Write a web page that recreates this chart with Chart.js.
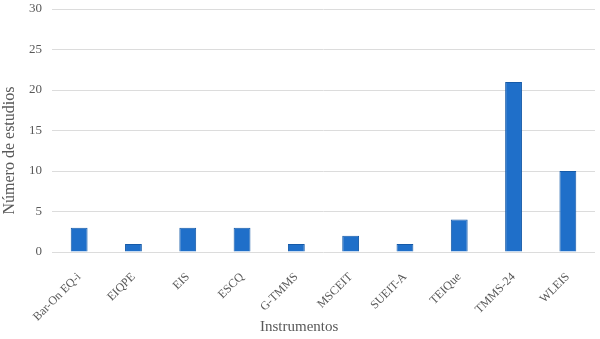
<!DOCTYPE html>
<html>
<head>
<meta charset="utf-8">
<script src="https://cdn.jsdelivr.net/npm/chart.js@4/dist/chart.umd.min.js"></script>
<style>
  html, body { margin: 0; padding: 0; background: #fff; }
  #wrap { width: 600px; height: 339px; }
</style>
</head>
<body>
<div id="wrap"><canvas id="chart"></canvas></div>
<script>
var instrumentos = ['Bar-On EQ-i', 'EIQPE', 'EIS', 'ESCQ', 'G-TMMS', 'MSCEIT', 'SUEIT-A', 'TEIQue', 'TMMS-24', 'WLEIS'];
var estudios = [3, 1, 3, 3, 1, 2, 1, 4, 21, 10];
var yTicks = [0, 5, 10, 15, 20, 25, 30];

var serif = "'Liberation Serif', 'Times New Roman', serif";
var grey = '#595959';
// titles sit off-centre in the original, pad with trailing nbsp
var pad = function (n) { return new Array(n + 1).join('\u00a0'); };

document.addEventListener('DOMContentLoaded', function () {
  var ctx = document.getElementById('chart').getContext('2d');
  new Chart(ctx, {
    type: 'bar',
    data: {
      labels: instrumentos,
      datasets: [{
        label: 'Número de estudios',
        data: estudios,
        backgroundColor: '#1f6fc9',
        borderColor: '#155aa8',
        borderWidth: 1,
        categoryPercentage: 1,
        barPercentage: 0.31
      }]
    },
    options: {
      responsive: true,
      maintainAspectRatio: false,
      animation: false,
      layout: { padding: { top: 9, right: 5, left: 0, bottom: 3 } },
      plugins: {
        legend: { display: false },
        tooltip: { enabled: false }
      },
      scales: {
        x: {
          afterFit: function (axis) { axis.height = 84; },
          grid: { display: false },
          border: { display: false },
          ticks: {
            color: grey,
            font: { family: serif, size: 12 },
            minRotation: 45,
            maxRotation: 45,
            padding: 10
          },
          title: {
            display: true,
            text: 'Instrumentos' + pad(13),
            color: grey,
            font: { family: serif, size: 15 },
            padding: { top: 4, bottom: 0 }
          }
        },
        y: {
          min: 0,
          max: 30,
          afterBuildTicks: function (axis) {
            axis.ticks = yTicks.map(function (v) { return { value: v }; });
          },
          afterFit: function (axis) {
            axis.width = 52;
            // tick padding would otherwise push the plot down
            axis.paddingTop = 0;
            axis.paddingBottom = 0;
          },
          grid: { color: '#dcdcdc', drawTicks: false },
          border: { display: false },
          ticks: {
            color: grey,
            font: { family: serif, size: 13 },
            padding: 10
          },
          title: {
            display: true,
            text: 'Número de estudios' + pad(10),
            color: grey,
            font: { family: serif, size: 16 },
            padding: { top: 0, bottom: 2 }
          }
        }
      }
    }
  });
});
</script>
</body>
</html>
